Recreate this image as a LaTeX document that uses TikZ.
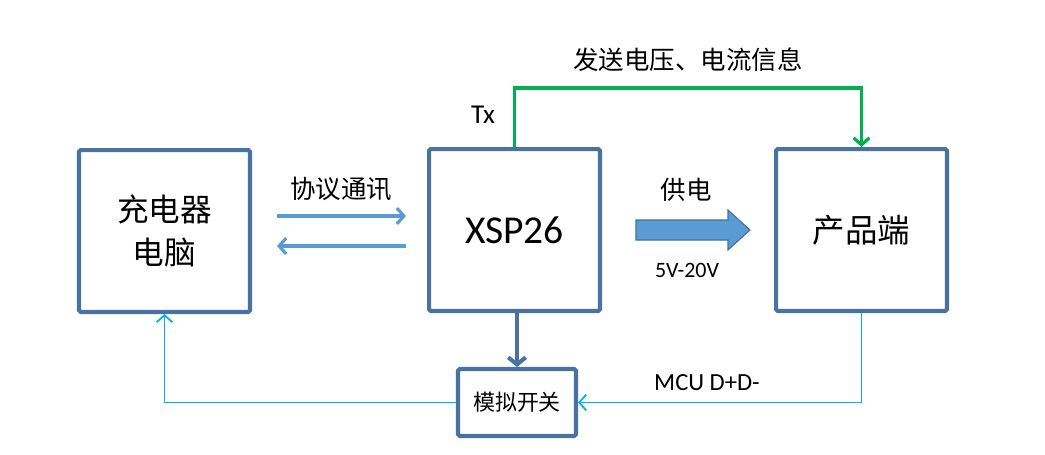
\documentclass[tikz,border=0pt]{standalone}
\usepackage{fontspec}
\setmainfont{Carlito}
\newfontfamily\cjk{Noto Sans CJK SC}
\usetikzlibrary{arrows.meta}

\definecolor{boxblue}{HTML}{4A72A0}
\definecolor{linkblue}{HTML}{5B9BD5}
\definecolor{darkblue}{HTML}{41719C}
\definecolor{txgreen}{HTML}{00B050}
\definecolor{dpcyan}{HTML}{00B0F0}

\tikzset{
	bigbox/.style={draw=boxblue, line width=2.3pt, rounded corners=1pt, fill=white, minimum width=3.42cm, minimum height=3.24cm, align=center},
	smallbox/.style={draw=boxblue, line width=2.3pt, rounded corners=1pt, fill=white, minimum width=2.36cm, minimum height=1.34cm},
	talk/.style={draw=linkblue, line width=1.8pt, -{Straight Barb[length=4pt,width=9pt,line width=1.8pt]}},
	txline/.style={draw=txgreen, line width=1.8pt, -{Straight Barb[length=4pt,width=9pt,line width=1.8pt]}},
	dpline/.style={draw=dpcyan, line width=1pt, -{Straight Barb[length=4pt,width=9pt,line width=1pt]}},
	ctrl/.style={draw=boxblue, line width=2.3pt, line cap=round, -{Straight Barb[length=4pt,width=10pt,line width=2.3pt]}},
	lbl/.style={font=\cjk\fontsize{14.5}{17}\selectfont}
}

\begin{document}
\begin{tikzpicture}[x=0.02cm,y=-0.02cm]
	\useasboundingbox (0,0) rectangle (1045,454);

	% boxes
	\node[bigbox, font=\cjk\fontsize{18}{24}\selectfont] (charger) at (164.5,231) {充电器\\电脑};
	\node[bigbox] (xsp) at (514.5,230) {\fontsize{22.5}{26}\selectfont XSP26};
	\node[bigbox] (product) at (861.5,230) {\cjk\fontsize{18.5}{22}\selectfont 产品端};
	\node[smallbox] (switch) at (517,402.5) {\cjk\fontsize{12.5}{15}\selectfont 模拟开关};

	% protocol
	\coordinate (p1) at (277,216);
	\coordinate (p2) at (406,216);
	\coordinate (p3) at (406,246);
	\coordinate (p4) at (277,246);
	\draw[talk] (p1) -- (p2);
	\draw[talk] (p3) -- (p4);
	\node[lbl] (protocol) at (341,189) {协议通讯};

	% power
	\draw[draw=darkblue, fill=linkblue, line width=0.6pt] (636,220) -- (728,220) -- (728,210) -- (750,230) -- (728,250) -- (728,240) -- (636,240) -- cycle;
	\node[lbl] (supply) at (686,190) {供电};
	\node[font=\fontsize{12.5}{15}\selectfont] (volt) at (687,270) {5V-20V};

	% Tx
	\draw[txline] (xsp.north) -- ++(0,-59) -| (product.north);
	\node[font=\fontsize{15.5}{18}\selectfont] (tx) at (483,115) {Tx};
	\node[lbl] (info) at (688,60) {发送电压、电流信息};

	% switch
	\draw[ctrl] (xsp.south -| switch.north) -- (switch.north);
	\draw[dpline] (product.south) |- (switch.east);
	\draw[dpline] (switch.west) -| (charger.south);
	\node[font=\fontsize{14}{17}\selectfont] (mcu) at (707,383) {MCU D+D-};
\end{tikzpicture}
\end{document}
